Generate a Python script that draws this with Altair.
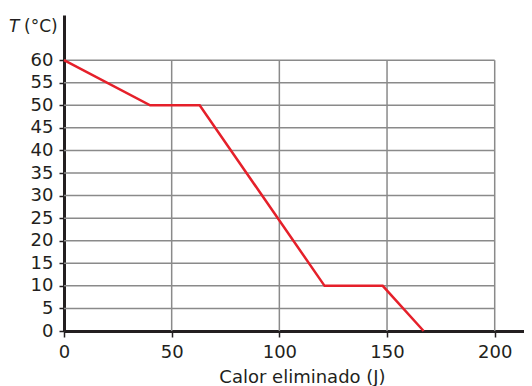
import altair as alt
import pandas as pd

# Data
heat = [0, 40, 63, 121, 148, 167]
temp = [60, 50, 50, 10, 10, 0]
x_ticks = [0, 50, 100, 150, 200]
y_ticks = [0, 5, 10, 15, 20, 25, 30, 35, 40, 45, 50, 55, 60]
x_grid = [50, 100, 150, 200]
y_grid = [5, 10, 15, 20, 25, 30, 35, 40, 45, 50, 55, 60]
x_title = "Calor eliminado (J)"
y_title_italic = "T"
y_title_rest = "(°C)"

FONT = "DejaVu Sans"
X_DOMAIN = [0, 213.6]
Y_DOMAIN = [0, 70]
GRID_COLOR = "#8a8a8a"
INK = "#231f20"

line_df = pd.DataFrame({"q": heat, "t": temp})
vgrid_df = pd.DataFrame({"q": x_grid, "t0": 0, "t1": 60})
hgrid_df = pd.DataFrame({"t": y_grid, "q0": 0, "q1": 200})

xscale = alt.Scale(domain=X_DOMAIN, nice=False, zero=False)
yscale = alt.Scale(domain=Y_DOMAIN, nice=False, zero=False)

x_axis = alt.Axis(
    values=x_ticks, grid=False, domainColor=INK, domainWidth=3,
    tickColor=INK, tickWidth=1.5, tickSize=6, labelFontSize=18,
    labelFont=FONT, labelColor=INK, labelPadding=6, labelOverlap=False,
    labelFlush=False,
    title=x_title, titleFont=FONT, titleFontSize=18, titleFontWeight="normal",
    titleColor=INK, titleX=238, titleY=46, titleAlign="center",
    titleBaseline="middle",
)
y_axis = alt.Axis(
    values=y_ticks, grid=False, domainColor=INK, domainWidth=3,
    tickColor=INK, tickWidth=1.5, tickSize=5, labelFontSize=18,
    labelFont=FONT, labelColor=INK, labelPadding=6, labelOverlap=False,
    labelFlush=False, title=None,
)

hgrid = alt.Chart(hgrid_df).mark_rule(color=GRID_COLOR, strokeWidth=1.5).encode(
    y=alt.Y("t:Q", scale=yscale, axis=y_axis),
    x=alt.X("q0:Q", scale=xscale, axis=x_axis),
    x2="q1:Q",
)
vgrid = alt.Chart(vgrid_df).mark_rule(color=GRID_COLOR, strokeWidth=1.5).encode(
    x=alt.X("q:Q", scale=xscale, axis=x_axis),
    y=alt.Y("t0:Q", scale=yscale, axis=y_axis),
    y2="t1:Q",
)
line = alt.Chart(line_df).mark_line(color="#e5202a", strokeWidth=2.5).encode(
    x=alt.X("q:Q", scale=xscale, axis=x_axis),
    y=alt.Y("t:Q", scale=yscale, axis=y_axis),
)

lab_df = pd.DataFrame({"a": [y_title_italic], "b": [y_title_rest]})
t_ital = alt.Chart(lab_df).mark_text(
    font=FONT, fontSize=17, fontStyle="italic", align="left", baseline="middle",
    color=INK,
).encode(text="a:N", x=alt.value(-55), y=alt.value(12))
t_rest = alt.Chart(lab_df).mark_text(
    font=FONT, fontSize=17, align="left", baseline="middle", color=INK,
).encode(text="b:N", x=alt.value(-40), y=alt.value(12))

chart = alt.layer(hgrid, vgrid, line, t_ital, t_rest).properties(
    width=460, height=316,
    autosize=alt.AutoSizeParams(type="none"),
    padding={"left": 56, "top": 7, "right": 0, "bottom": 55},
).configure_view(stroke=None)

chart.save("out.html", embed_options={"renderer": "svg", "actions": False})
